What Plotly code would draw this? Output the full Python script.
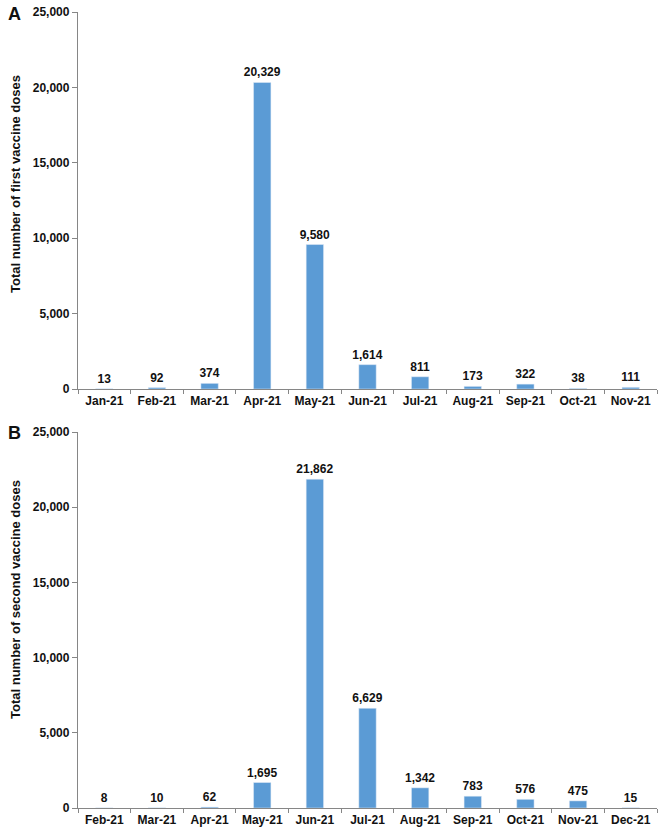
import plotly.graph_objects as go
from plotly.subplots import make_subplots

months_a = ["Jan-21", "Feb-21", "Mar-21", "Apr-21", "May-21", "Jun-21",
            "Jul-21", "Aug-21", "Sep-21", "Oct-21", "Nov-21"]
first_doses = [13, 92, 374, 20329, 9580, 1614, 811, 173, 322, 38, 111]

months_b = ["Feb-21", "Mar-21", "Apr-21", "May-21", "Jun-21", "Jul-21",
            "Aug-21", "Sep-21", "Oct-21", "Nov-21", "Dec-21"]
second_doses = [8, 10, 62, 1695, 21862, 6629, 1342, 783, 576, 475, 15]

y_ticks = [0, 5000, 10000, 15000, 20000, 25000]

BAR = "#5B9BD5"
AX = "#868686"
FONT = "Liberation Sans, Arial, sans-serif"

fig = make_subplots(rows=2, cols=1, vertical_spacing=0.05)

for r, (x, y) in enumerate([(months_a, first_doses), (months_b, second_doses)], start=1):
    fig.add_trace(go.Bar(
        x=x, y=y, marker_color=BAR, width=0.33,
        texttemplate="%{y:,}", textposition="outside",
        textfont=dict(size=12, color="#111111", family=FONT, weight="bold"),
        constraintext="none",
        cliponaxis=False, showlegend=False,
    ), row=r, col=1)

W, H = 669, 836
L, R, T, B = 78, 12, 12, 28
ph = H - T - B
pw = W - L - R
a_bot, b_top = 389, 432
dom_a = [(H - B - a_bot) / ph, 1]
dom_b = [0, (H - B - b_top) / ph]

common_y = dict(
    range=[0, 25000], tickvals=y_ticks, tickformat=",", showline=True,
    linecolor=AX, linewidth=1.3, ticks="outside", ticklen=5, tickcolor=AX,
    showgrid=False, zeroline=False, automargin=False,
    tickfont=dict(size=12, color="#111111", family=FONT, weight="bold"),
)
common_x = dict(
    showline=True, linecolor=AX, linewidth=1.3, ticks="outside", ticklen=4,
    tickcolor=AX, tickson="boundaries", showgrid=False, automargin=False,
    tickfont=dict(size=12, color="#111111", family=FONT, weight="bold"),
)

fig.update_yaxes(**common_y, domain=dom_a, row=1, col=1)
fig.update_yaxes(**common_y, domain=dom_b, row=2, col=1)
fig.update_xaxes(**common_x, row=1, col=1)
fig.update_xaxes(**common_x, row=2, col=1)


def px_x(px):
    return (px - L) / pw


def px_y(py):
    return (H - B - py) / ph


for txt, py in [("Total number of first vaccine doses", 184),
                ("Total number of second vaccine doses", 600)]:
    fig.add_annotation(text=txt, xref="paper", yref="paper",
                       x=px_x(15), y=px_y(py), showarrow=False, textangle=-90,
                       xanchor="center", yanchor="middle",
                       font=dict(size=13, color="#111111", family=FONT, weight="bold"))

for lbl, py in [("A", 14), ("B", 433)]:
    fig.add_annotation(text=lbl, xref="paper", yref="paper",
                       x=px_x(14), y=px_y(py), showarrow=False,
                       xanchor="center", yanchor="middle",
                       font=dict(size=18, color="#111111", family=FONT, weight="bold"))

fig.update_layout(
    width=W, height=H, margin=dict(l=L, r=R, t=T, b=B),
    plot_bgcolor="white", paper_bgcolor="white",
    uniformtext=dict(minsize=12, mode="show"),
    font=dict(family=FONT),
)

fig.write_html("out.html")
